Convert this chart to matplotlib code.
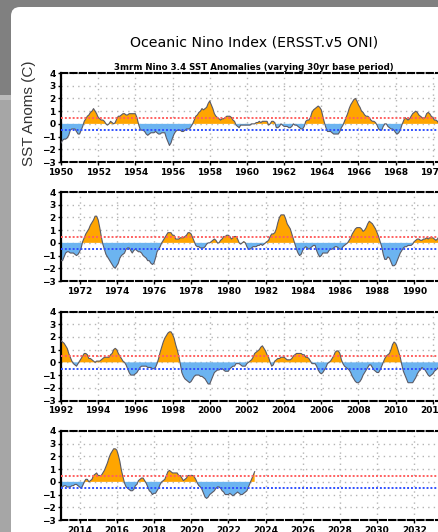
import matplotlib
matplotlib.use("Agg")
import matplotlib.pyplot as plt
import numpy as np
from matplotlib.patches import FancyBboxPatch, Rectangle
from matplotlib.transforms import IdentityTransform

# 3-month running mean Nino 3.4 anomalies, one row per year (DJF ... NDJ)
oni_1950s = [
    [-1.5, -1.3, -1.2, -1.2, -1.1, -0.9, -0.5, -0.4, -0.4, -0.4, -0.6, -0.8],
    [-0.8, -0.5, -0.2, 0.2, 0.4, 0.6, 0.7, 0.9, 1.0, 1.2, 1.0, 0.8],
    [0.5, 0.4, 0.3, 0.3, 0.2, 0.0, -0.1, 0.0, 0.2, 0.1, 0.0, 0.1],
    [0.4, 0.6, 0.6, 0.7, 0.8, 0.8, 0.7, 0.7, 0.8, 0.8, 0.8, 0.8],
    [0.8, 0.5, 0.0, -0.4, -0.5, -0.5, -0.6, -0.8, -0.9, -0.8, -0.7, -0.7],
    [-0.7, -0.6, -0.7, -0.8, -0.8, -0.7, -0.7, -0.7, -1.1, -1.4, -1.7, -1.5],
    [-1.1, -0.8, -0.6, -0.5, -0.5, -0.5, -0.6, -0.6, -0.5, -0.4, -0.4, -0.4],
    [-0.2, 0.0, 0.3, 0.6, 0.7, 0.9, 1.0, 1.2, 1.1, 1.2, 1.3, 1.6],
    [1.8, 1.5, 1.2, 0.8, 0.6, 0.5, 0.4, 0.3, 0.4, 0.4, 0.5, 0.6],
    [0.6, 0.6, 0.5, 0.3, 0.2, -0.1, -0.2, -0.3, -0.1, -0.1, -0.1, -0.1],
]
oni_1960s = [
    [-0.1, -0.1, -0.1, 0.0, 0.0, 0.0, 0.1, 0.1, 0.2, 0.1, 0.2, 0.2],
    [0.2, 0.2, -0.1, 0.0, 0.2, 0.2, 0.1, -0.3, -0.3, -0.2, 0.0, -0.1],
    [-0.2, -0.2, -0.2, -0.3, -0.3, -0.2, 0.0, -0.1, -0.1, -0.2, -0.3, -0.4],
    [-0.4, -0.2, 0.2, 0.3, 0.3, 0.5, 0.9, 1.1, 1.2, 1.3, 1.4, 1.3],
    [1.1, 0.6, 0.1, -0.3, -0.6, -0.6, -0.6, -0.7, -0.8, -0.8, -0.8, -0.8],
    [-0.6, -0.3, -0.1, 0.2, 0.5, 0.8, 1.2, 1.5, 1.7, 1.9, 2.0, 1.8],
    [1.5, 1.3, 1.0, 0.9, 0.7, 0.6, 0.6, 0.5, 0.3, 0.2, 0.2, 0.1],
    [-0.1, -0.4, -0.5, -0.5, -0.2, 0.0, 0.0, -0.2, -0.3, -0.4, -0.4, -0.5],
    [-0.7, -0.8, -0.7, -0.5, -0.1, 0.2, 0.5, 0.4, 0.3, 0.4, 0.6, 0.8],
    [0.9, 1.0, 0.9, 0.7, 0.6, 0.5, 0.4, 0.5, 0.8, 0.9, 0.8, 0.6],
]
oni_1970s = [
    [0.5, 0.3, 0.3, 0.2, 0.0, -0.3, -0.6, -0.8, -0.8, -0.7, -0.9, -1.1],
    [-1.4, -1.4, -1.1, -0.8, -0.7, -0.7, -0.8, -0.8, -0.8, -0.9, -1.0, -0.9],
    [-0.7, -0.4, 0.1, 0.4, 0.7, 0.9, 1.1, 1.4, 1.6, 1.8, 2.1, 2.1],
    [1.8, 1.2, 0.5, -0.1, -0.5, -0.9, -1.1, -1.3, -1.5, -1.7, -1.9, -2.0],
    [-1.8, -1.6, -1.2, -1.0, -0.9, -0.8, -0.5, -0.4, -0.4, -0.6, -0.8, -0.6],
    [-0.5, -0.6, -0.7, -0.7, -0.8, -1.0, -1.1, -1.2, -1.4, -1.4, -1.6, -1.7],
    [-1.6, -1.2, -0.7, -0.5, -0.3, 0.0, 0.2, 0.4, 0.6, 0.8, 0.8, 0.8],
    [0.6, 0.6, 0.3, 0.3, 0.3, 0.4, 0.4, 0.4, 0.5, 0.6, 0.8, 0.8],
    [0.7, 0.4, 0.1, -0.2, -0.3, -0.3, -0.4, -0.4, -0.4, -0.3, -0.1, 0.0],
    [0.0, 0.1, 0.2, 0.3, 0.2, 0.0, 0.0, 0.2, 0.3, 0.5, 0.5, 0.6],
]
oni_1980s = [
    [0.6, 0.5, 0.3, 0.4, 0.5, 0.5, 0.3, 0.0, -0.1, 0.0, 0.1, 0.0],
    [-0.3, -0.5, -0.5, -0.4, -0.3, -0.3, -0.3, -0.2, -0.2, -0.1, -0.2, -0.1],
    [0.0, 0.1, 0.2, 0.5, 0.7, 0.7, 0.8, 1.1, 1.6, 2.0, 2.2, 2.2],
    [2.2, 1.9, 1.5, 1.3, 1.1, 0.7, 0.3, -0.1, -0.5, -0.8, -1.0, -0.9],
    [-0.6, -0.4, -0.3, -0.4, -0.5, -0.4, -0.3, -0.2, -0.2, -0.6, -0.9, -1.1],
    [-1.0, -0.8, -0.8, -0.8, -0.8, -0.6, -0.5, -0.5, -0.4, -0.3, -0.3, -0.4],
    [-0.5, -0.5, -0.3, -0.2, -0.1, 0.0, 0.2, 0.4, 0.7, 0.9, 1.1, 1.2],
    [1.2, 1.2, 1.1, 0.9, 1.0, 1.2, 1.5, 1.7, 1.6, 1.5, 1.3, 1.1],
    [0.8, 0.5, 0.1, -0.3, -0.9, -1.3, -1.3, -1.1, -1.2, -1.5, -1.8, -1.8],
    [-1.7, -1.4, -1.1, -0.8, -0.6, -0.4, -0.3, -0.3, -0.2, -0.2, -0.2, -0.1],
]
oni_1990s = [
    [0.1, 0.2, 0.3, 0.3, 0.2, 0.2, 0.3, 0.3, 0.4, 0.3, 0.4, 0.4],
    [0.4, 0.3, 0.2, 0.3, 0.5, 0.6, 0.7, 0.6, 0.6, 0.8, 1.2, 1.5],
    [1.7, 1.6, 1.5, 1.3, 1.1, 0.7, 0.4, 0.1, -0.1, -0.2, -0.3, -0.1],
    [0.1, 0.3, 0.5, 0.7, 0.7, 0.6, 0.3, 0.3, 0.2, 0.1, 0.0, 0.1],
    [0.1, 0.1, 0.2, 0.3, 0.4, 0.4, 0.4, 0.4, 0.6, 0.7, 1.0, 1.1],
    [1.0, 0.7, 0.5, 0.3, 0.1, 0.0, -0.2, -0.5, -0.8, -1.0, -1.0, -1.0],
    [-0.9, -0.8, -0.6, -0.4, -0.3, -0.3, -0.3, -0.3, -0.4, -0.4, -0.4, -0.5],
    [-0.5, -0.4, -0.1, 0.3, 0.8, 1.2, 1.6, 1.9, 2.1, 2.3, 2.4, 2.4],
    [2.2, 1.9, 1.4, 1.0, 0.5, -0.1, -0.8, -1.1, -1.3, -1.4, -1.5, -1.6],
    [-1.5, -1.3, -1.1, -1.0, -1.0, -1.0, -1.1, -1.1, -1.2, -1.3, -1.5, -1.7],
]
oni_2000s = [
    [-1.7, -1.4, -1.1, -0.8, -0.7, -0.6, -0.6, -0.5, -0.5, -0.6, -0.7, -0.7],
    [-0.7, -0.5, -0.4, -0.3, -0.3, -0.1, -0.1, -0.1, -0.2, -0.3, -0.3, -0.3],
    [-0.1, 0.0, 0.1, 0.2, 0.4, 0.7, 0.8, 0.9, 1.0, 1.2, 1.3, 1.1],
    [0.9, 0.6, 0.4, 0.0, -0.3, -0.2, 0.1, 0.2, 0.3, 0.3, 0.4, 0.4],
    [0.4, 0.3, 0.2, 0.2, 0.2, 0.3, 0.5, 0.6, 0.7, 0.7, 0.7, 0.7],
    [0.6, 0.6, 0.4, 0.4, 0.3, 0.1, -0.1, -0.1, -0.1, -0.3, -0.6, -0.8],
    [-0.9, -0.8, -0.6, -0.4, -0.1, 0.0, 0.1, 0.3, 0.5, 0.8, 0.9, 0.9],
    [0.7, 0.2, -0.1, -0.3, -0.4, -0.5, -0.6, -0.8, -1.1, -1.3, -1.5, -1.6],
    [-1.6, -1.5, -1.3, -1.0, -0.8, -0.6, -0.4, -0.2, -0.2, -0.4, -0.6, -0.7],
    [-0.8, -0.8, -0.6, -0.3, 0.0, 0.3, 0.5, 0.6, 0.7, 1.0, 1.4, 1.6],
]
oni_2010s = [
    [1.5, 1.2, 0.8, 0.4, -0.2, -0.7, -1.0, -1.3, -1.6, -1.6, -1.6, -1.6],
    [-1.4, -1.2, -0.9, -0.7, -0.6, -0.4, -0.5, -0.6, -0.8, -1.0, -1.1, -1.0],
    [-0.9, -0.7, -0.6, -0.5, -0.3, 0.0, 0.2, 0.4, 0.4, 0.3, 0.1, -0.2],
    [-0.4, -0.4, -0.3, -0.3, -0.4, -0.4, -0.4, -0.3, -0.3, -0.2, -0.2, -0.3],
    [-0.4, -0.5, -0.3, 0.0, 0.2, 0.2, 0.0, 0.1, 0.2, 0.5, 0.6, 0.7],
    [0.5, 0.5, 0.5, 0.7, 0.9, 1.2, 1.5, 1.9, 2.2, 2.4, 2.6, 2.6],
    [2.5, 2.1, 1.6, 0.9, 0.4, -0.1, -0.4, -0.5, -0.6, -0.7, -0.7, -0.6],
    [-0.3, -0.2, 0.1, 0.2, 0.3, 0.3, 0.1, -0.1, -0.4, -0.7, -0.8, -1.0],
    [-0.9, -0.9, -0.7, -0.5, -0.2, 0.0, 0.1, 0.2, 0.5, 0.8, 0.9, 0.8],
    [0.7, 0.7, 0.7, 0.7, 0.5, 0.5, 0.3, 0.1, 0.2, 0.3, 0.5, 0.5],
]
oni_2020s = [
    [0.5, 0.5, 0.4, 0.2, -0.1, -0.3, -0.4, -0.6, -0.9, -1.2, -1.3, -1.2],
    [-1.0, -0.9, -0.8, -0.7, -0.5, -0.4, -0.4, -0.5, -0.7, -0.8, -1.0, -1.0],
    [-1.0, -0.9, -1.0, -1.1, -1.0, -0.9, -0.8, -0.9, -1.0, -1.0, -0.9, -0.8],
    [-0.7, -0.4, -0.1, 0.2, 0.5, 0.8],
]

first_year = 1950
panel_starts = [1950, 1971, 1992, 2013]
panel_years = 22
y_ticks = [-3, -2, -1, 0, 1, 2, 3, 4]

title = "Oceanic Nino Index (ERSST.v5 ONI)"
subtitle = "3mrm Nino 3.4 SST Anomalies (varying 30yr base period)"
ylabel = "SST Anoms (C)"

W, H = 438, 532

values = []
for decade in [oni_1950s, oni_1960s, oni_1970s, oni_1980s,
               oni_1990s, oni_2000s, oni_2010s, oni_2020s]:
    for row in decade:
        values.extend(row)
values = np.array(values)
times = first_year + np.arange(len(values)) / 12.0

fig = plt.figure(figsize=(W / 100, H / 100), dpi=100, facecolor="#808080")

# screenshot frame around the chart
px = IdentityTransform()
fig.add_artist(Rectangle((0, 0), 11, H - 100, transform=px,
                         facecolor="#a6a6a6", edgecolor="none", zorder=-20))
fig.add_artist(Rectangle((0, H - 100), 11, 5, transform=px,
                         facecolor="#bababa", edgecolor="none", zorder=-20))
fig.add_artist(FancyBboxPatch((11, -40), 520, H - 7 + 40, transform=px,
                              boxstyle="round,pad=0,rounding_size=9",
                              facecolor="white", edgecolor="none", zorder=-10))

tops = [73, 192, 311.5, 431]
ax_h = 89
left_px, width_px = 61, 409

for start, top in zip(panel_starts, tops):
    ax = fig.add_axes([left_px / W, 1 - (top + ax_h) / H, width_px / W, ax_h / H])
    ax.set_facecolor("none")
    ax.set_xlim(start, start + panel_years)
    ax.set_ylim(-3, 4)

    xt = np.arange(start + start % 2, start + panel_years + 1, 2)
    ax.set_xticks(xt, [str(t) for t in xt], fontsize=6.5, fontweight="bold")
    ax.set_yticks(y_ticks, [f"{t}".replace("-", "\u2212") for t in y_ticks],
                  fontsize=6.5, fontweight="bold")
    ax.tick_params(length=2.5, width=1, pad=1.5)
    ax.grid(True, color="#b4b4b4", linestyle=(0, (1, 3)), linewidth=1)
    ax.set_axisbelow(True)

    m = (times >= start - 0.1) & (times <= start + panel_years + 0.1)
    t, v = times[m], values[m]
    ax.fill_between(t, v, 0, where=v >= 0, interpolate=True,
                    color="#ffa500", linewidth=0, zorder=2)
    ax.fill_between(t, v, 0, where=v <= 0, interpolate=True,
                    color="#6cb4f0", linewidth=0, zorder=2)
    ax.plot(t, v, color="#5a5a66", linewidth=0.8, zorder=3)

    ax.axhline(0.5, color="#ff6060", linestyle=(0, (1, 1)), linewidth=1.4, zorder=4)
    ax.axhline(-0.5, color="#2f4fff", linestyle=(0, (1, 1)), linewidth=1.4, zorder=4)

    for side in ["top", "bottom", "right"]:
        ax.spines[side].set_linestyle((0, (3, 1.5)))
        ax.spines[side].set_linewidth(1.5)
    ax.spines["left"].set_linewidth(1.6)

fig.text(254 / W, 1 - 43 / H, title, ha="center", va="center", fontsize=10.2)
fig.text(254 / W, 1 - 68 / H, subtitle, ha="center", va="center",
         fontsize=6.2, fontweight="bold")
fig.text(29 / W, 1 - 113 / H, ylabel, ha="center", va="center", rotation=90,
         fontsize=11, family="Liberation Sans", color="#333333")

fig.savefig("out.png", dpi=100, facecolor=fig.get_facecolor())
